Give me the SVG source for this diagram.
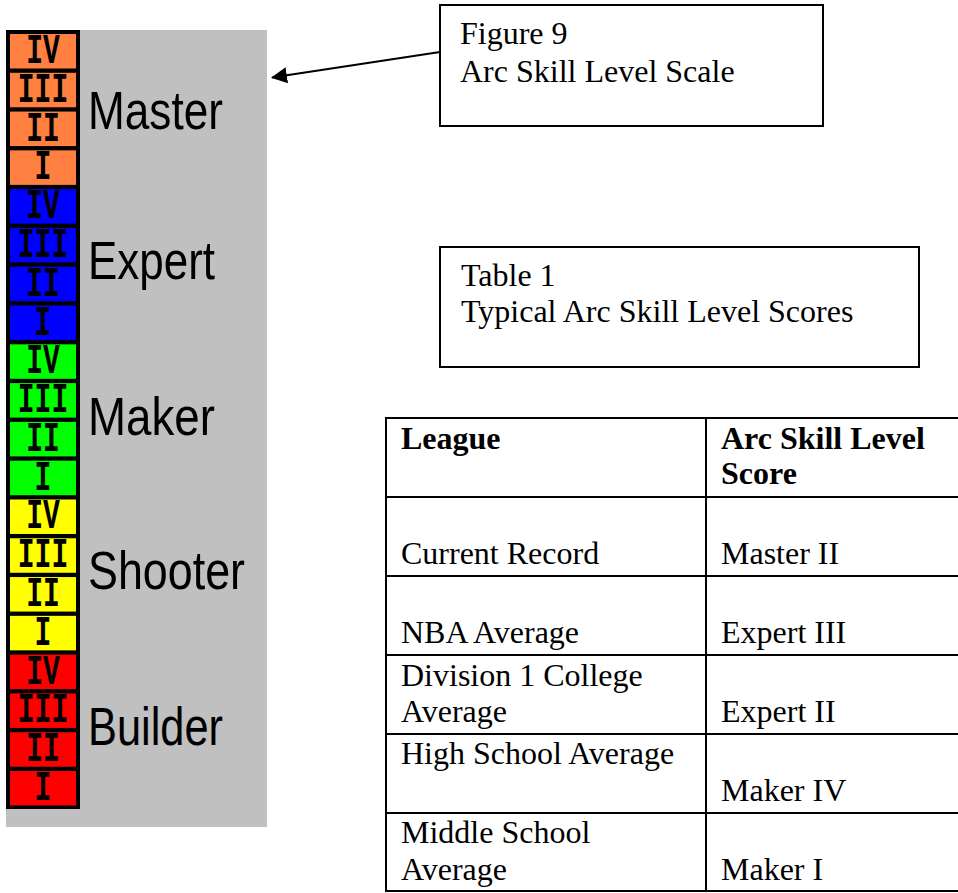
<svg xmlns="http://www.w3.org/2000/svg" width="958" height="893" viewBox="0 0 958 893">
<defs>
<style>
.cell{stroke:none}
.o{fill:#ff8040}.b{fill:#0000ff}.g{fill:#00ff00}.y{fill:#ffff00}.r{fill:#ff0000}
.num{font-family:"Liberation Mono","DejaVu Sans Mono",monospace;font-weight:bold;font-size:28px;fill:#000;text-anchor:middle}
.lvl{font-family:"Liberation Sans","DejaVu Sans",sans-serif;font-size:53px;fill:#000}
.t{font-family:"Liberation Serif","Times New Roman",serif;font-size:32px;fill:#000}
.tb{font-family:"Liberation Serif","Times New Roman",serif;font-size:32px;font-weight:bold;fill:#000}
.box{fill:#fff;stroke:#000;stroke-width:2}
.tl{stroke:#000;stroke-width:2;fill:none}
</style>
<marker id="ah" viewBox="0 0 16 16" refX="15" refY="8" markerWidth="16" markerHeight="16" markerUnits="userSpaceOnUse" orient="auto">
<path d="M0,0 L16,8 L0,16 Z" fill="#000"/>
</marker>
</defs>
<rect width="958" height="893" fill="#fff"/>

<g id="scale">
<rect x="6" y="30" width="261" height="797" fill="#c0c0c0"/>
<rect x="6" y="30" width="74" height="779" fill="#000"/>
<g id="master">
<rect class="cell o" x="10" y="34" width="66" height="34.5"/>
<rect class="cell o" x="10" y="72.79" width="66" height="34.5"/>
<rect class="cell o" x="10" y="111.58" width="66" height="34.5"/>
<rect class="cell o" x="10" y="150.37" width="66" height="34.5"/>
<text class="num" transform="translate(43,63) scale(1,1.5)">IV</text>
<text class="num" transform="translate(43,101.79) scale(1,1.5)">III</text>
<text class="num" transform="translate(43,140.58) scale(1,1.5)">II</text>
<text class="num" transform="translate(43,179.37) scale(1,1.5)">I</text>
<text class="lvl" x="88" y="129" textLength="135" lengthAdjust="spacingAndGlyphs">Master</text>
</g>
<g id="expert">
<rect class="cell b" x="10" y="189.16" width="66" height="34.5"/>
<rect class="cell b" x="10" y="227.95" width="66" height="34.5"/>
<rect class="cell b" x="10" y="266.74" width="66" height="34.5"/>
<rect class="cell b" x="10" y="305.53" width="66" height="34.5"/>
<text class="num" transform="translate(43,218.16) scale(1,1.5)">IV</text>
<text class="num" transform="translate(43,256.95) scale(1,1.5)">III</text>
<text class="num" transform="translate(43,295.74) scale(1,1.5)">II</text>
<text class="num" transform="translate(43,334.53) scale(1,1.5)">I</text>
<text class="lvl" x="88" y="279" textLength="127" lengthAdjust="spacingAndGlyphs">Expert</text>
</g>
<g id="maker">
<rect class="cell g" x="10" y="344.32" width="66" height="34.5"/>
<rect class="cell g" x="10" y="383.11" width="66" height="34.5"/>
<rect class="cell g" x="10" y="421.9" width="66" height="34.5"/>
<rect class="cell g" x="10" y="460.69" width="66" height="34.5"/>
<text class="num" transform="translate(43,373.32) scale(1,1.5)">IV</text>
<text class="num" transform="translate(43,412.11) scale(1,1.5)">III</text>
<text class="num" transform="translate(43,450.9) scale(1,1.5)">II</text>
<text class="num" transform="translate(43,489.69) scale(1,1.5)">I</text>
<text class="lvl" x="88" y="435" textLength="127" lengthAdjust="spacingAndGlyphs">Maker</text>
</g>
<g id="shooter">
<rect class="cell y" x="10" y="499.48" width="66" height="34.5"/>
<rect class="cell y" x="10" y="538.27" width="66" height="34.5"/>
<rect class="cell y" x="10" y="577.06" width="66" height="34.5"/>
<rect class="cell y" x="10" y="615.85" width="66" height="34.5"/>
<text class="num" transform="translate(43,528.48) scale(1,1.5)">IV</text>
<text class="num" transform="translate(43,567.27) scale(1,1.5)">III</text>
<text class="num" transform="translate(43,606.06) scale(1,1.5)">II</text>
<text class="num" transform="translate(43,644.85) scale(1,1.5)">I</text>
<text class="lvl" x="88" y="589" textLength="157" lengthAdjust="spacingAndGlyphs">Shooter</text>
</g>
<g id="builder">
<rect class="cell r" x="10" y="654.64" width="66" height="34.5"/>
<rect class="cell r" x="10" y="693.43" width="66" height="34.5"/>
<rect class="cell r" x="10" y="732.22" width="66" height="34.5"/>
<rect class="cell r" x="10" y="771.01" width="66" height="34.5"/>
<text class="num" transform="translate(43,683.64) scale(1,1.5)">IV</text>
<text class="num" transform="translate(43,722.43) scale(1,1.5)">III</text>
<text class="num" transform="translate(43,761.22) scale(1,1.5)">II</text>
<text class="num" transform="translate(43,800.01) scale(1,1.5)">I</text>
<text class="lvl" x="88" y="745" textLength="135" lengthAdjust="spacingAndGlyphs">Builder</text>
</g>
</g>

<g id="connectors">
<line x1="440" y1="52" x2="272" y2="77.5" stroke="#000" stroke-width="2" marker-end="url(#ah)"/>
</g>

<g id="figure-caption">
<rect class="box" x="440" y="5" width="383" height="121"/>
<text class="t" x="460" y="44">Figure 9</text>
<text class="t" x="460" y="82">Arc Skill Level Scale</text>
</g>

<g id="table-caption">
<rect class="box" x="440" y="247" width="479" height="120"/>
<text class="t" x="461" y="286">Table 1</text>
<text class="t" x="461" y="322">Typical Arc Skill Level Scores</text>
</g>

<g id="table">
<line class="tl" x1="385" y1="418" x2="958" y2="418"/>
<line class="tl" x1="385" y1="497" x2="958" y2="497"/>
<line class="tl" x1="385" y1="576" x2="958" y2="576"/>
<line class="tl" x1="385" y1="655" x2="958" y2="655"/>
<line class="tl" x1="385" y1="734" x2="958" y2="734"/>
<line class="tl" x1="385" y1="813" x2="958" y2="813"/>
<line class="tl" x1="385" y1="891" x2="958" y2="891"/>
<line class="tl" x1="386" y1="417" x2="386" y2="892"/>
<line class="tl" x1="706" y1="417" x2="706" y2="892"/>
<text class="tb" x="401" y="449">League</text>
<text class="tb" x="721" y="449">Arc Skill Level</text>
<text class="tb" x="721" y="484">Score</text>
<text class="t" x="401" y="564">Current Record</text>
<text class="t" x="721" y="564">Master II</text>
<text class="t" x="401" y="643">NBA Average</text>
<text class="t" x="721" y="643">Expert III</text>
<text class="t" x="401" y="686">Division 1 College</text>
<text class="t" x="401" y="722">Average</text>
<text class="t" x="721" y="722">Expert II</text>
<text class="t" x="401" y="764">High School Average</text>
<text class="t" x="721" y="801">Maker IV</text>
<text class="t" x="401" y="843">Middle School</text>
<text class="t" x="401" y="880">Average</text>
<text class="t" x="721" y="880">Maker I</text>
</g>
</svg>
